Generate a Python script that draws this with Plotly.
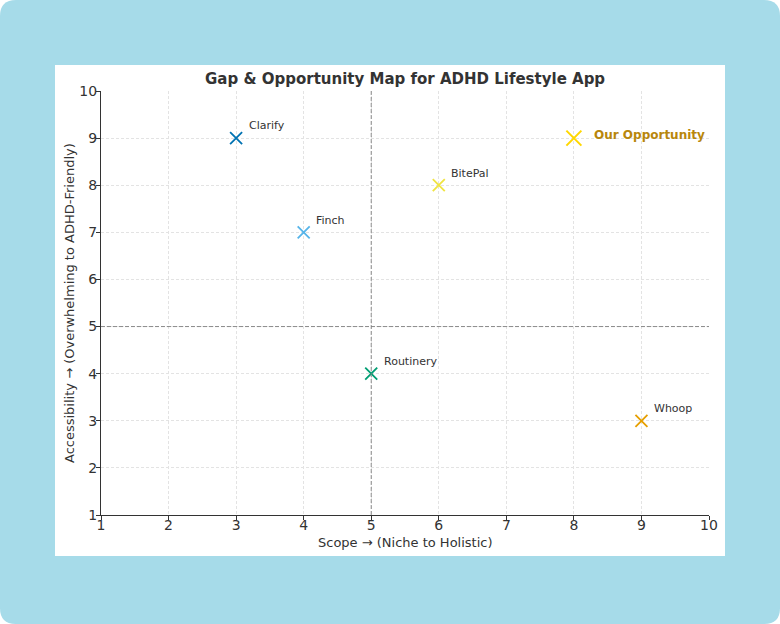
import plotly.graph_objects as go

apps = ["Clarify", "Finch", "BitePal", "Routinery", "Whoop"]
scope = [3, 4, 6, 5, 9]
access = [9, 7, 8, 4, 3]
colors = ["#0072B2", "#56B4E9", "#F0E442", "#009E73", "#E69F00"]

opp_name = "Our Opportunity"
opp_scope = [8]
opp_access = [9]

ticks = list(range(1, 11))

W, H = 780, 624
L, R, T, B = 101, 709, 91, 515  # plot area pixels

def px(xp):
    return (xp - L) / (R - L)

def py(yp):
    return (B - yp) / (B - T)

fig = go.Figure()

for name, x, y, c in zip(apps, scope, access, colors):
    fig.add_trace(go.Scatter(
        x=[x], y=[y], mode="markers", name=name,
        marker=dict(symbol="x-thin", size=12, line=dict(color=c, width=1.8)),
        hoverinfo="skip", showlegend=False))
    fig.add_annotation(x=x + 0.2, y=y + 0.3, text=name, showarrow=False,
                       xanchor="left", yanchor="middle", xshift=-3, yshift=-2,
                       font=dict(family="DejaVu Sans", size=11, color="#333333"))

fig.add_trace(go.Scatter(
    x=opp_scope, y=opp_access, mode="markers", name=opp_name,
    marker=dict(symbol="x-thin", size=15, line=dict(color="#FFD700", width=2)),
    hoverinfo="skip", showlegend=False))
fig.add_annotation(x=opp_scope[0] + 0.3, y=opp_access[0] + 0.1, text="<b>" + opp_name + "</b>",
                   showarrow=False, xanchor="left", yanchor="middle", xshift=-2, yshift=-2,
                   font=dict(family="DejaVu Sans", size=12, color="#B8860B"))

# Frame background
r = 16
def rr_path(x0, y0, x1, y1, rad):
    def P(a, b):
        return f"{px(a):.5f},{py(b):.5f}"
    return (f"M {P(x0 + rad, y0)} L {P(x1 - rad, y0)} Q {P(x1, y0)} {P(x1, y0 + rad)} "
            f"L {P(x1, y1 - rad)} Q {P(x1, y1)} {P(x1 - rad, y1)} "
            f"L {P(x0 + rad, y1)} Q {P(x0, y1)} {P(x0, y1 - rad)} "
            f"L {P(x0, y0 + rad)} Q {P(x0, y0)} {P(x0 + rad, y0)} Z")

fig.add_shape(type="path", xref="paper", yref="paper", path=rr_path(0, 0, W, H, r),
              fillcolor="#A6DBE9", line=dict(width=0), layer="below")
fig.add_shape(type="rect", xref="paper", yref="paper",
              x0=px(55), x1=px(725), y0=py(556), y1=py(65),
              fillcolor="white", line=dict(width=0), layer="below")

# Reference lines
fig.add_shape(type="line", xref="x", yref="y", x0=5, x1=5, y0=1, y1=10,
              line=dict(color="#808080", width=0.9, dash="4px,2px"))
fig.add_shape(type="line", xref="x", yref="y", x0=1, x1=10, y0=5, y1=5,
              line=dict(color="#808080", width=0.9, dash="4px,2px"))

fig.add_annotation(xref="paper", yref="paper", x=0.5, y=py(79),
                   text="<b>Gap & Opportunity Map for ADHD Lifestyle App</b>",
                   showarrow=False, xanchor="center", yanchor="middle",
                   font=dict(family="DejaVu Sans", size=15, color="#333333"))

# Axis titles
fig.add_annotation(xref="paper", yref="paper", x=0.5, y=py(542),
                   text="Scope → (Niche to Holistic)", showarrow=False,
                   xanchor="center", yanchor="middle",
                   font=dict(family="DejaVu Sans", size=13, color="#333333"))
fig.add_annotation(xref="paper", yref="paper", x=px(69), y=0.5,
                   text="Accessibility → (Overwhelming to ADHD-Friendly)", showarrow=False,
                   textangle=-90, xanchor="center", yanchor="middle",
                   font=dict(family="DejaVu Sans", size=13, color="#333333"))

axis_common = dict(
    range=[1, 10], tickmode="array", tickvals=ticks, ticktext=[str(t) for t in ticks],
    showline=True, linecolor="#333333", linewidth=1.2,
    ticks="outside", ticklen=4, tickcolor="#333333", tickwidth=1,
    showgrid=True, gridcolor="#E3E3E3", gridwidth=0.7, griddash="3px,2px",
    zeroline=False, tickfont=dict(family="DejaVu Sans", size=14, color="#333333"),
)

fig.update_layout(
    width=W, height=H,
    margin=dict(l=L, r=W - R, t=T, b=H - B),
    paper_bgcolor="white", plot_bgcolor="rgba(0,0,0,0)",
    xaxis=dict(**axis_common, ticklabelstandoff=-7),
    yaxis=dict(**axis_common, ticklabelstandoff=-4),
    showlegend=False,
)

fig.write_html("out.html")
